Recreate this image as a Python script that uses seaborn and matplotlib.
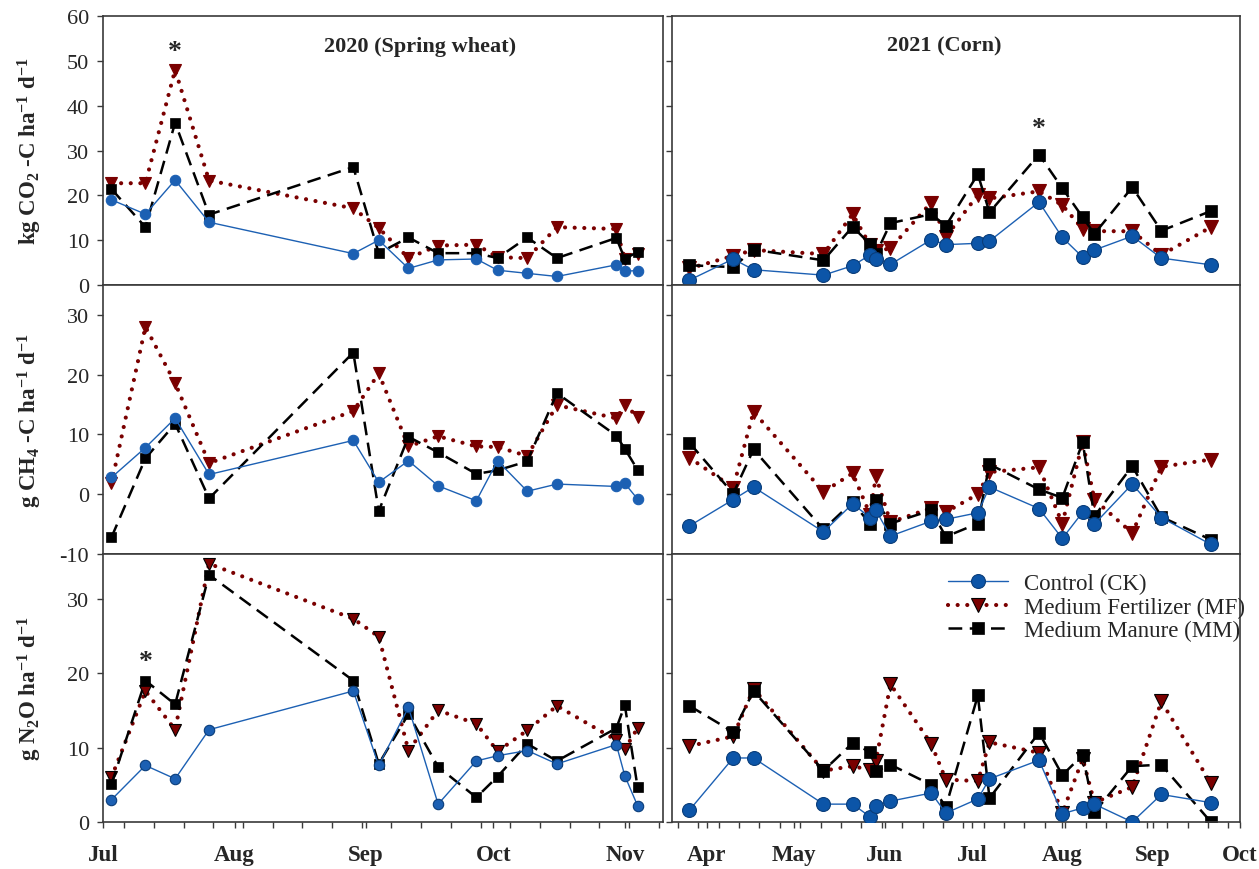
import matplotlib
matplotlib.use("Agg")
import matplotlib.pyplot as plt
import matplotlib.dates as mdates
import pandas as pd
import seaborn as sns

sns.set_theme(style="white")
plt.rcParams["font.family"] = ["Liberation Serif", "DejaVu Serif"]
plt.rcParams["mathtext.default"] = "regular"
plt.rcParams["axes.unicode_minus"] = False

# ---------------- sampling dates ----------------
dates_2020 = ["2020-07-03", "2020-07-11", "2020-07-18", "2020-07-26", "2020-08-29",
              "2020-09-04", "2020-09-11", "2020-09-18", "2020-09-27", "2020-10-02",
              "2020-10-09", "2020-10-16", "2020-10-30", "2020-11-01", "2020-11-04"]
dates_2021 = ["2021-03-26", "2021-04-10", "2021-04-17", "2021-05-11", "2021-05-21",
              "2021-05-27", "2021-05-29", "2021-06-03", "2021-06-17", "2021-06-22",
              "2021-07-03", "2021-07-07", "2021-07-24", "2021-08-01", "2021-08-08",
              "2021-08-12", "2021-08-25", "2021-09-04", "2021-09-21"]

# ---------------- CO2 fluxes (kg CO2-C/ha/d) ----------------
co2_2020_ck = [19.0, 15.8, 23.4, 14.0, 7.0, 10.0, 3.7, 5.6, 5.8, 3.3, 2.6, 1.9, 4.5, 3.1, 3.2]
co2_2020_mf = [22.7, 22.7, 48.0, 23.3, 17.1, 12.7, 6.0, 8.8, 9.0, 6.2, 6.0, 12.9, 12.5, 5.8, 7.0]
co2_2020_mm = [21.4, 12.9, 36.2, 15.7, 26.3, 7.1, 10.6, 7.1, 7.1, 6.0, 10.6, 6.0, 10.5, 5.8, 7.4]
co2_2021_ck = [1.1, 5.8, 3.4, 2.2, 4.3, 6.7, 5.8, 4.6, 10.1, 9.0, 9.3, 9.8, 18.5, 10.6, 6.2,
               7.8, 10.9, 6.0, 4.5]
co2_2021_mf = [3.7, 6.5, 7.8, 6.9, 15.8, 8.9, 7.5, 8.2, 18.4, 10.7, 20.1, 19.3, 20.9, 17.8,
               12.5, 12.0, 12.0, 6.7, 12.9]
co2_2021_mm = [4.4, 4.0, 7.9, 5.5, 13.0, 9.1, 6.9, 13.8, 15.8, 13.2, 24.7, 16.2, 29.1, 21.6,
               15.1, 11.4, 21.8, 12.1, 16.5]

# ---------------- CH4 fluxes (g CH4-C/ha/d) ----------------
ch4_2020_ck = [2.8, 7.8, 12.7, 3.3, 9.0, 2.0, 5.6, 1.4, -1.1, 5.6, 0.5, 1.7, 1.3, 1.8, -0.8]
ch4_2020_mf = [1.8, 28.0, 18.6, 5.2, 13.9, 20.2, 8.0, 9.7, 8.0, 7.9, 6.4, 14.9, 12.7, 14.9, 13.0]
ch4_2020_mm = [-7.2, 6.0, 11.8, -0.7, 23.7, -2.8, 9.6, 7.0, 3.4, 4.0, 5.5, 16.9, 9.8, 7.6, 4.1]
ch4_2021_ck = [-5.3, -0.9, 1.2, -6.3, -1.6, -3.9, -2.7, -7.0, -4.5, -4.2, -3.1, 1.2, -2.4,
               -7.4, -3.0, -5.0, 1.7, -3.9, -8.4]
ch4_2021_mf = [6.1, 1.1, 13.8, 0.4, 3.5, -3.4, 3.0, -4.7, -2.3, -3.0, 0.0, 3.7, 4.5, -4.9,
               8.7, -0.9, -6.5, 4.6, 5.8]
ch4_2021_mm = [8.6, 0.1, 7.5, -5.9, -1.3, -5.0, -0.9, -4.9, -2.7, -7.1, -4.9, 5.0, 0.8, -0.6,
               8.7, -3.7, 4.7, -3.8, -7.6]

# ---------------- N2O fluxes (g N2O/ha/d) ----------------
n2o_2020_ck = [3.0, 7.6, 5.8, 12.4, 17.6, 7.6, 15.4, 2.4, 8.2, 8.9, 9.6, 7.8, 10.4, 6.2, 2.2]
n2o_2020_mf = [6.0, 17.6, 12.4, 34.7, 27.3, 24.9, 9.6, 15.0, 13.2, 9.5, 12.3, 15.6, 11.0, 9.8, 12.6]
n2o_2020_mm = [5.1, 19.0, 15.8, 33.2, 19.0, 7.8, 14.5, 7.4, 3.3, 6.1, 10.5, 8.2, 12.6, 15.7, 4.7]
n2o_2021_ck = [1.6, 8.6, 8.6, 2.4, 2.4, 0.7, 2.1, 2.8, 3.9, 1.2, 3.1, 5.8, 8.3, 1.1, 1.9,
               2.4, 0.0, 3.7, 2.6]
n2o_2021_mf = [10.2, 11.5, 17.9, 6.9, 7.5, 7.0, 8.2, 18.5, 10.5, 5.7, 5.5, 10.7, 9.3, 1.2,
               8.5, 2.6, 4.7, 16.2, 5.2]
n2o_2021_mm = [15.6, 12.1, 17.6, 6.9, 10.6, 9.4, 6.8, 7.7, 5.0, 2.0, 17.0, 3.2, 12.0, 6.3,
               9.0, 1.3, 7.5, 7.7, 0.0]

treatments = ["Control (CK)", "Medium Fertilizer (MF)", "Medium Manure (MM)"]
panel_titles = ["2020 (Spring wheat)", "2021 (Corn)"]
month_fmt = "%b"

BLUE = "#1c60b3"
RED = "#7a0000"
BLACK = "#000000"
FRAME = "#3a3a3a"

fig = plt.figure(figsize=(12.59, 8.70), dpi=100)

W, H = 1259.0, 870.0
cols = [(103 / W, 560 / W), (672 / W, 568 / W)]
rows = [(1 - 286 / H, 269 / H), (1 - 555 / H, 269 / H), (1 - 823 / H, 268 / H)]

row_data = [
    ((co2_2020_ck, co2_2020_mf, co2_2020_mm), (co2_2021_ck, co2_2021_mf, co2_2021_mm)),
    ((ch4_2020_ck, ch4_2020_mf, ch4_2020_mm), (ch4_2021_ck, ch4_2021_mf, ch4_2021_mm)),
    ((n2o_2020_ck, n2o_2020_mf, n2o_2020_mm), (n2o_2021_ck, n2o_2021_mf, n2o_2021_mm)),
]
ylims = [(0, 60), (-10, 35), (0, 36)]
yticks = [range(0, 61, 10), range(-10, 31, 10), range(0, 31, 10)]
xlims = [(pd.Timestamp("2020-07-01"), pd.Timestamp("2020-11-10")),
         (pd.Timestamp("2021-03-20"), pd.Timestamp("2021-10-01"))]
date_sets = [pd.to_datetime(pd.Series(dates_2020)), pd.to_datetime(pd.Series(dates_2021))]

axes = {}
for r, (bottom, height) in enumerate(rows):
    for c, (left, width) in enumerate(cols):
        ax = fig.add_axes([left, bottom, width, height])
        axes[(r, c)] = ax
        ck, mf, mm = row_data[r][c]
        d = date_sets[c]
        big = c == 1
        edge = r == 2
        sns.lineplot(x=d, y=ck, ax=ax, color=BLUE, lw=1.0, marker="o",
                     ms=10 if big else 7.5, mfc="#0c55a8" if big else BLUE,
                     mec="#0a3d7a" if (big or edge) else BLUE, mew=0.8,
                     label=treatments[0], legend=False, errorbar=None, zorder=3)
        sns.lineplot(x=d, y=mf, ax=ax, color=RED, lw=3.0,
                     linestyle=(0, (0.01, 2.3)), dash_capstyle="round",
                     marker="v", ms=10 if big else 8, mfc=RED,
                     mec=BLACK if edge else RED, mew=0.8,
                     label=treatments[1], legend=False, errorbar=None, zorder=2)
        sns.lineplot(x=d, y=mm, ax=ax, color=BLACK, lw=1.8,
                     linestyle=(0, (5.5, 3.0)), marker="s",
                     ms=8 if big else 7, mfc=BLACK, mec=BLACK, mew=0.5,
                     label=treatments[2], legend=False, errorbar=None, zorder=2)

        ax.set_xlim(*xlims[c])
        ax.set_ylim(*ylims[r])
        ax.set_yticks(list(yticks[r]))
        ax.set_xlabel("")
        ax.set_ylabel("")
        for sp in ax.spines.values():
            sp.set_color(FRAME)
            sp.set_linewidth(1.2)
            sp.set_visible(True)
        ax.tick_params(axis="y", which="both", direction="out", length=4,
                       width=1.0, color=FRAME, left=True, right=False,
                       labelleft=(c == 0), labelsize=16, pad=6)
        ax.xaxis.set_major_locator(mdates.MonthLocator())
        ax.xaxis.set_major_formatter(mdates.DateFormatter(month_fmt))
        ax.xaxis.set_minor_locator(mdates.WeekdayLocator(byweekday=mdates.MO))
        if r == 2:
            ax.tick_params(axis="x", which="both", direction="out", length=4,
                           width=1.0, color=FRAME, bottom=True, top=False,
                           labelsize=16.5, pad=12)
            for lab in ax.get_xticklabels():
                lab.set_fontweight("bold")
        else:
            ax.tick_params(axis="x", which="both", bottom=False, top=False,
                           labelbottom=False)
        ax.set_facecolor("white")
        ax.grid(False)

# panel headings
axes[(0, 0)].text(0.566, 0.89, panel_titles[0], transform=axes[(0, 0)].transAxes,
                  ha="center", va="center", fontsize=16, fontweight="bold")
axes[(0, 1)].text(0.479, 0.89, panel_titles[1], transform=axes[(0, 1)].transAxes,
                  ha="center", va="center", fontsize=16, fontweight="bold")

# significance marks
axes[(0, 0)].text(pd.Timestamp("2020-07-18"), 52.0, "*", ha="center", va="center",
                  fontsize=20, fontweight="bold")
axes[(0, 1)].text(pd.Timestamp("2021-07-24"), 35.0, "*", ha="center", va="center",
                  fontsize=20, fontweight="bold")
axes[(2, 0)].text(pd.Timestamp("2020-07-11"), 21.5, "*", ha="center", va="center",
                  fontsize=20, fontweight="bold")

# y-axis labels
ylabels = [r"kg CO$_2$ -C ha$^{-1}$ d$^{-1}$",
           r"g CH$_4$ -C ha$^{-1}$ d$^{-1}$",
           r"g N$_2$O ha$^{-1}$ d$^{-1}$"]
for (bottom, height), lab in zip(rows, ylabels):
    fig.text(30 / W, bottom + height / 2, lab, rotation=90, ha="center", va="center",
             fontsize=16.5, fontweight="bold")

# legend
lax = axes[(2, 1)]
handles, labels = lax.get_legend_handles_labels()
lax.legend(handles, labels, loc="upper left", bbox_to_anchor=(0.47, 0.965),
           frameon=False, fontsize=16.5, handlelength=2.6, handletextpad=0.7,
           labelspacing=0.12, borderaxespad=0)

fig.savefig("out.png", dpi=100, facecolor="white")
